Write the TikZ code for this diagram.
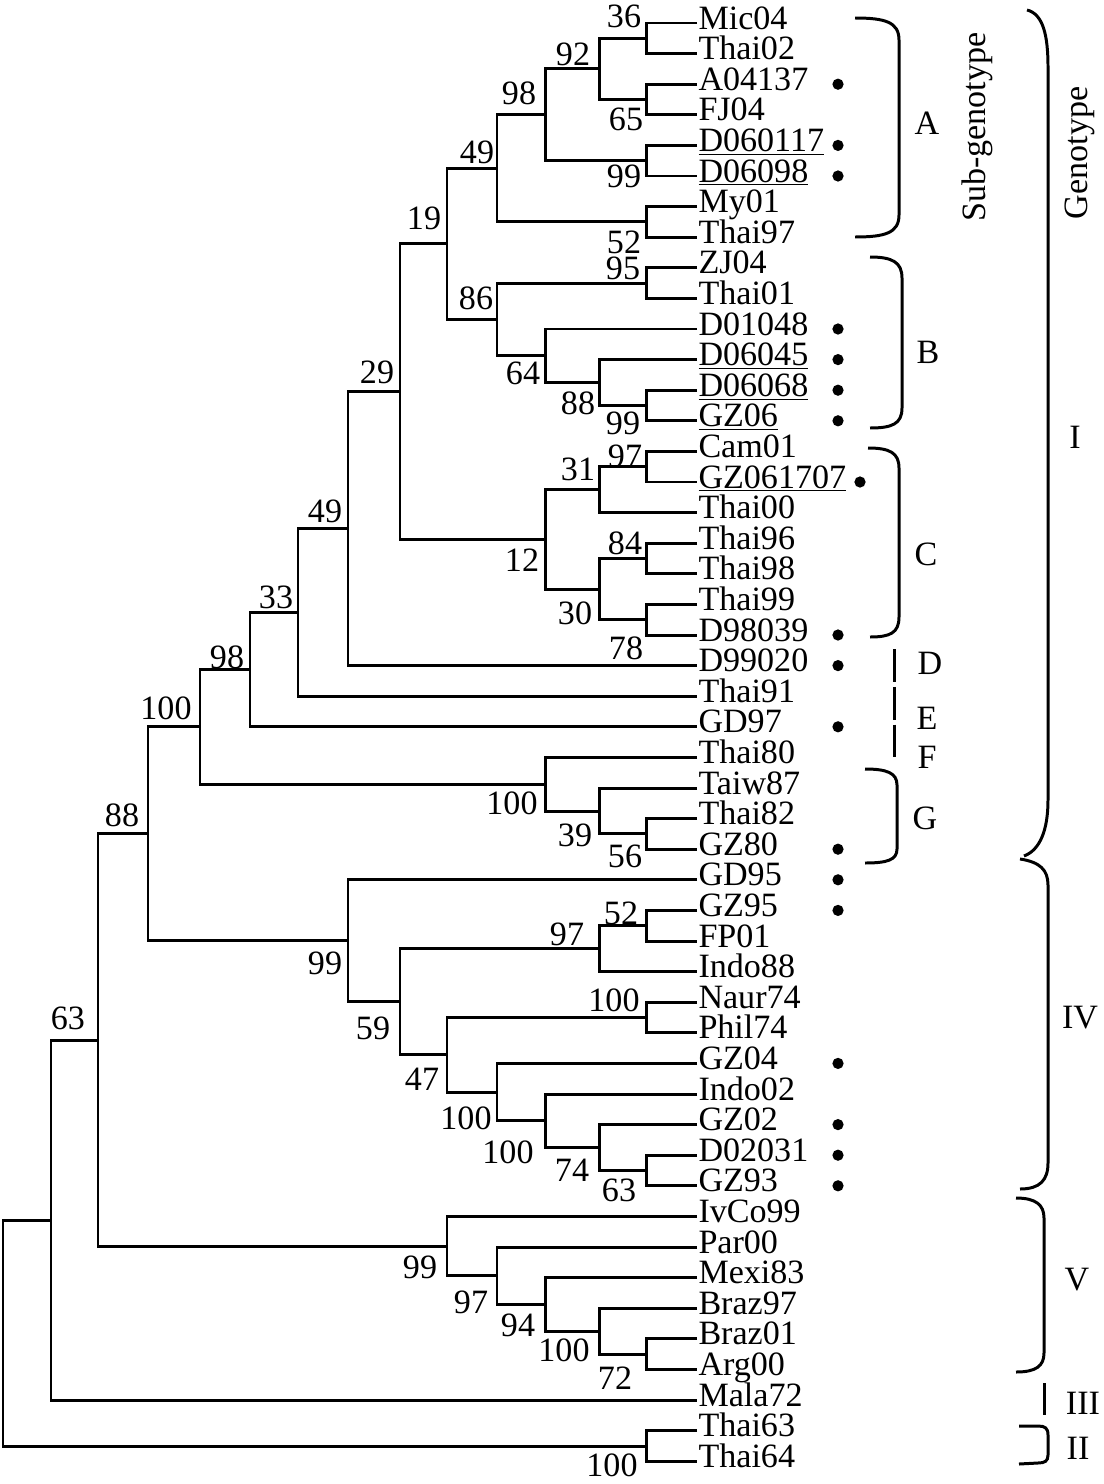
\documentclass[tikz,border=0pt]{standalone}
\usepackage{fontspec}
\setmainfont{Liberation Serif}

\tikzset{
	leaf/.style={anchor=west, inner sep=0pt, text height=1.5ex, text depth=0pt},
	boot/.style={inner sep=0pt},
	clade/.style={inner sep=0pt},
}

\begin{document}
\begin{tikzpicture}[x=0.02cm, y=-0.02cm, line width=1.7pt, font=\fontsize{19.4}{23}\selectfont]
	\useasboundingbox (0,0) rectangle (1103,1484);
	% strains
	\foreach \nm/\txt [count=\i from 0] in {Mic04/Mic04, Thai02/Thai02, A04137/A04137, FJ04/FJ04,
		D060117/\underline{D060117}, D06098/\underline{D06098}, My01/My01, Thai97/Thai97,
		ZJ04/ZJ04, Thai01/Thai01, D01048/D01048, D06045/\underline{D06045}, D06068/\underline{D06068},
		GZ06/\underline{GZ06}, Cam01/Cam01, GZ061707/\underline{GZ061707}, Thai00/Thai00,
		Thai96/Thai96, Thai98/Thai98, Thai99/Thai99, D98039/D98039, D99020/D99020, Thai91/Thai91,
		GD97/GD97, Thai80/Thai80, Taiw87/Taiw87, Thai82/Thai82, GZ80/GZ80, GD95/GD95, GZ95/GZ95,
		FP01/FP01, Indo88/Indo88, Naur74/Naur74, Phil74/Phil74, GZ04/GZ04, Indo02/Indo02,
		GZ02/GZ02, D02031/D02031, GZ93/GZ93, IvCo99/IvCo99, Par00/Par00, Mexi83/Mexi83,
		Braz97/Braz97, Braz01/Braz01, Arg00/Arg00, Mala72/Mala72, Thai63/Thai63, Thai64/Thai64}
		\node[leaf] (\nm) at (697,{23+30.6*\i}) {\txt};

	% internal nodes
	\coordinate (n36) at (646,38.3);
	\coordinate (n65) at (646,99.5);
	\coordinate (n92) at (599,68.9);
	\coordinate (n99a) at (646,160.7);
	\coordinate (n98a) at (545,114.8);
	\coordinate (n52a) at (646,221.9);
	\coordinate (n49a) at (497,168.4);
	\coordinate (n95) at (646,283.1);
	\coordinate (n99b) at (646,405.5);
	\coordinate (n88b) at (599,382.6);
	\coordinate (n64) at (545,355.8);
	\coordinate (n86) at (497,319.4);
	\coordinate (n19) at (447,243.9);
	\coordinate (n97c) at (646,466.7);
	\coordinate (n31) at (599,489.7);
	\coordinate (n84) at (646,558.5);
	\coordinate (n78) at (646,619.7);
	\coordinate (n30) at (599,589.1);
	\coordinate (n12) at (545,539.4);
	\coordinate (n29) at (400,391.6);
	\coordinate (n49b) at (348,528.6);
	\coordinate (n33) at (298,612.4);
	\coordinate (n98b) at (250,669.6);
	\coordinate (n56) at (646,833.9);
	\coordinate (n39) at (599,811.0);
	\coordinate (n100g) at (545,784.2);
	\coordinate (n100a) at (200,726.9);
	\coordinate (n52d) at (646,925.7);
	\coordinate (n97d) at (599,948.7);
	\coordinate (n100n) at (646,1017.5);
	\coordinate (n63d) at (646,1170.5);
	\coordinate (n74) at (599,1147.6);
	\coordinate (n100e) at (545,1120.8);
	\coordinate (n100d) at (497,1092.1);
	\coordinate (n47) at (447,1054.8);
	\coordinate (n59) at (400,1001.7);
	\coordinate (n99d) at (348,940.8);
	\coordinate (n88a) at (148,833.8);
	\coordinate (n72) at (646,1354.1);
	\coordinate (n100v) at (599,1331.2);
	\coordinate (n94) at (545,1304.4);
	\coordinate (n97v) at (497,1275.7);
	\coordinate (n99v) at (447,1246.1);
	\coordinate (n63a) at (98,1040.0);
	\coordinate (n50) at (51,1220.0);
	\coordinate (n100t) at (646,1446.0);
	\coordinate (root) at (3,1333.0);

	% branches
	\draw (Mic04.west) -| (n36) |- (Thai02.west);
	\draw (A04137.west) -| (n65) |- (FJ04.west);
	\draw (n36) -| (n92) |- (n65);
	\draw (D060117.west) -| (n99a) |- (D06098.west);
	\draw (n92) -| (n98a) |- (n99a);
	\draw (My01.west) -| (n52a) |- (Thai97.west);
	\draw (n98a) -| (n49a) |- (n52a);
	\draw (ZJ04.west) -| (n95) |- (Thai01.west);
	\draw (D06068.west) -| (n99b) |- (GZ06.west);
	\draw (D06045.west) -| (n88b) |- (n99b);
	\draw (D01048.west) -| (n64) |- (n88b);
	\draw (n95) -| (n86) |- (n64);
	\draw (n49a) -| (n19) |- (n86);
	\draw (Cam01.west) -| (n97c) |- (GZ061707.west);
	\draw (n97c) -| (n31) |- (Thai00.west);
	\draw (Thai96.west) -| (n84) |- (Thai98.west);
	\draw (Thai99.west) -| (n78) |- (D98039.west);
	\draw (n84) -| (n30) |- (n78);
	\draw (n31) -| (n12) |- (n30);
	\draw (n19) -| (n29) |- (n12);
	\draw (n29) -| (n49b) |- (D99020.west);
	\draw (n49b) -| (n33) |- (Thai91.west);
	\draw (n33) -| (n98b) |- (GD97.west);
	\draw (Thai82.west) -| (n56) |- (GZ80.west);
	\draw (Taiw87.west) -| (n39) |- (n56);
	\draw (Thai80.west) -| (n100g) |- (n39);
	\draw (n98b) -| (n100a) |- (n100g);
	\draw (GZ95.west) -| (n52d) |- (FP01.west);
	\draw (n52d) -| (n97d) |- (Indo88.west);
	\draw (Naur74.west) -| (n100n) |- (Phil74.west);
	\draw (D02031.west) -| (n63d) |- (GZ93.west);
	\draw (GZ02.west) -| (n74) |- (n63d);
	\draw (Indo02.west) -| (n100e) |- (n74);
	\draw (GZ04.west) -| (n100d) |- (n100e);
	\draw (n100n) -| (n47) |- (n100d);
	\draw (n97d) -| (n59) |- (n47);
	\draw (GD95.west) -| (n99d) |- (n59);
	\draw (n100a) -| (n88a) |- (n99d);
	\draw (Braz01.west) -| (n72) |- (Arg00.west);
	\draw (Braz97.west) -| (n100v) |- (n72);
	\draw (Mexi83.west) -| (n94) |- (n100v);
	\draw (Par00.west) -| (n97v) |- (n94);
	\draw (IvCo99.west) -| (n99v) |- (n97v);
	\draw (n88a) -| (n63a) |- (n99v);
	\draw (n63a) -| (n50) |- (Mala72.west);
	\draw (Thai63.west) -| (n100t) |- (Thai64.west);
	\draw (n50) -| (root) |- (n100t);

	% bootstrap values
	\node[boot] (b36) at (624,16) {36};
	\node[boot] (b92) at (573,54) {92};
	\node[boot] (b98a) at (519,93) {98};
	\node[boot] (b65) at (626,119) {65};
	\node[boot] (b49a) at (477,152) {49};
	\node[boot] (b99a) at (624,176) {99};
	\node[boot] (b19) at (424,218) {19};
	\node[boot] (b52a) at (624,242) {52};
	\node[boot] (b95) at (623,268) {95};
	\node[boot] (b86) at (476,298) {86};
	\node[boot] (b29) at (377,372) {29};
	\node[boot] (b64) at (523,373) {64};
	\node[boot] (b88b) at (578,403) {88};
	\node[boot] (b99b) at (623,423) {99};
	\node[boot] (b97c) at (625,456) {97};
	\node[boot] (b31) at (578,469) {31};
	\node[boot] (b49b) at (325,511) {49};
	\node[boot] (b84) at (625,543) {84};
	\node[boot] (b12) at (522,560) {12};
	\node[boot] (b33) at (276,597) {33};
	\node[boot] (b30) at (575,613) {30};
	\node[boot] (b78) at (626,648) {78};
	\node[boot] (b98b) at (227,657) {98};
	\node[boot] (b100a) at (166,708) {100};
	\node[boot] (b100g) at (512,803) {100};
	\node[boot] (b88a) at (122,815) {88};
	\node[boot] (b39) at (575,835) {39};
	\node[boot] (b56) at (625,856) {56};
	\node[boot] (b52d) at (621,913) {52};
	\node[boot] (b97d) at (567,934) {97};
	\node[boot] (b99d) at (325,963) {99};
	\node[boot] (b100n) at (614,1000) {100};
	\node[boot] (b63a) at (68,1018) {63};
	\node[boot] (b59) at (373,1028) {59};
	\node[boot] (b47) at (422,1079) {47};
	\node[boot] (b100d) at (466,1118) {100};
	\node[boot] (b100e) at (508,1152) {100};
	\node[boot] (b74) at (572,1170) {74};
	\node[boot] (b63d) at (619,1190) {63};
	\node[boot] (b99v) at (420,1267) {99};
	\node[boot] (b97v) at (471,1302) {97};
	\node[boot] (b94) at (518,1325) {94};
	\node[boot] (b100v) at (564,1350) {100};
	\node[boot] (b72) at (615,1378) {72};
	\node[boot] (b100t) at (612,1465) {100};

	% marked strains
	\coordinate (dotcol) at (838,0);
	\foreach \nm in {A04137, D060117, D06098, D01048, D06045, D06068, GZ06, D98039, D99020,
		GD97, GZ80, GD95, GZ95, GZ04, GZ02, D02031, GZ93}
		\fill (\nm.west -| dotcol) circle (3.2pt);
	\fill (GZ061707.west -| 860,0) circle (3.2pt);

	% sub-genotypes
	\draw (855,18) .. controls (885,18) and (899,22) .. (899,40) -- (899,215) .. controls (899,233) and (885,237) .. (855,237);
	\draw (870,257) .. controls (892,257) and (902,262) .. (902,278) -- (902,408) .. controls (902,424) and (892,428) .. (870,428);
	\draw (868,448) .. controls (890,448) and (899,453) .. (899,468) -- (899,617) .. controls (899,633) and (890,637) .. (870,637);
	\draw[dash pattern=on 18.7pt off 2.8pt] (894,649) -- (894,758);
	\draw (865,769) .. controls (887,769) and (897,773) .. (897,785) -- (897,849) .. controls (897,860) and (887,863) .. (865,863);
	\node[clade] (subA) at (927,123) {A};
	\node[clade] (subB) at (928,352) {B};
	\node[clade] (subC) at (926,554) {C};
	\node[clade] (subD) at (930,663) {D};
	\node[clade] (subE) at (927,718) {E};
	\node[clade] (subF) at (927,757) {F};
	\node[clade] (subG) at (925,818) {G};
	\node[clade, rotate=90] (subtitle) at (977,127) {Sub-genotype};

	% genotypes
	\draw (1027,10) .. controls (1043,14) and (1048,35) .. (1048,67) -- (1048,800) .. controls (1048,830) and (1040,850) .. (1024,856);
	\draw (1020,859) .. controls (1040,862) and (1048,870) .. (1048,885) -- (1048,1163) .. controls (1048,1180) and (1040,1189) .. (1020,1189);
	\draw (1016,1198) .. controls (1036,1198) and (1044,1205) .. (1044,1218) -- (1044,1353) .. controls (1044,1366) and (1036,1372) .. (1016,1372);
	\draw (1044,1383) -- (1044,1415);
	\draw (1019,1426) -- (1038,1426) .. controls (1045,1426) and (1048,1428) .. (1048,1435) -- (1048,1455) .. controls (1048,1461) and (1045,1463) .. (1038,1463) -- (1019,1464);
	\node[clade] (genI) at (1075,437) {I};
	\node[clade] (genIV) at (1080,1018) {IV};
	\node[clade] (genV) at (1077,1280) {V};
	\node[clade] (genIII) at (1083,1403) {III};
	\node[clade] (genII) at (1078,1448) {II};
	\node[clade, rotate=90] (gentitle) at (1080,153) {Genotype};
\end{tikzpicture}
\end{document}
